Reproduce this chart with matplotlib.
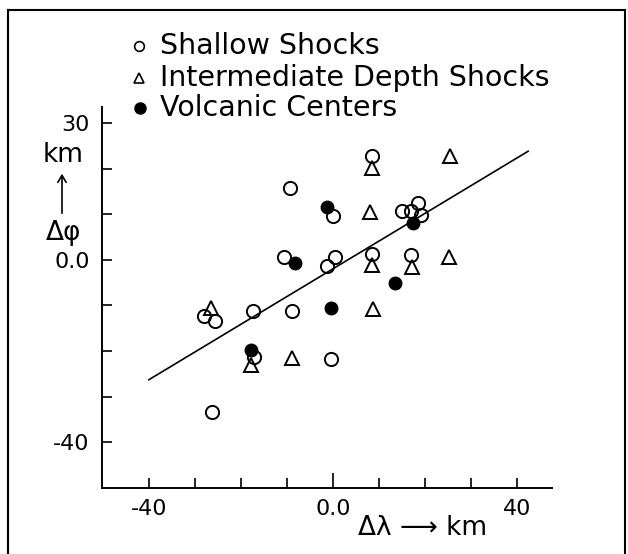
import numpy as np
import matplotlib
matplotlib.use('Agg')
import matplotlib.pyplot as plt
from matplotlib.lines import Line2D

# values (km)
shallow_x=[8.4,-9.4,-0.1,15.0,17.1,18.6,19.1,-10.7,0.4,-1.2,8.4,17.1,-28.1,-25.8,-17.5,-8.9,-17.2,-0.4,-26.4]
shallow_y=[22.8,15.7,9.6,10.8,10.8,12.4,9.9,0.7,0.7,-1.3,1.3,1.1,-12.4,-13.4,-11.3,-11.2,-21.3,-21.7,-33.3]

inter_x=[8.6,25.5,8.1,8.4,17.3,25.3,-26.5,8.8,-17.9,-8.9]
inter_y=[20.1,22.7,10.4,-1.1,-1.5,0.7,-10.6,-10.8,-23.0,-21.6]

volc_x=[-1.2,17.4,-8.3,13.5,-0.4,-17.8]
volc_y=[11.6,8.0,-0.6,-5.1,-10.6,-19.7]

# fitted line end points
line_x=[-40.1,42.5]
line_y=[-26.3,23.8]

xticks=[-40,-30,-20,-10,0,10,20,30,40]
xticklabels=['-40','','','','0.0','','','','40']
yticks=[-40,-30,-20,-10,0,10,20,30]
yticklabels=['-40','','','','0.0','','','30']

legend_labels=['Shallow Shocks','Intermediate Depth Shocks','Volcanic Centers']

plt.rcParams['font.family']=['DejaVu Sans']

W,H=628,554
def fx(x):
	return x/W
def fy(y):
	return 1-y/H

fig=plt.figure(figsize=(6.28,5.54),dpi=100)
ax=fig.add_axes([fx(102),fy(488.3),450/W,(488.3-107)/H])

ax.plot(line_x,line_y,color='black',lw=1.2)
ax.plot(inter_x,inter_y,ls='none',marker='^',ms=10,mfc='none',mec='black',mew=1.4)
ax.plot(shallow_x,shallow_y,ls='none',marker='o',ms=9.5,mfc='none',mec='black',mew=1.4)
ax.plot(volc_x,volc_y,ls='none',marker='o',ms=9,mfc='black',mec='black')

ax.set_xlim(-50.3,47.7)
ax.set_ylim(-50.1,33.5)
for s in ['top','right']:
	ax.spines[s].set_visible(False)
for s in ['left','bottom']:
	ax.spines[s].set_linewidth(1.4)

ax.set_xticks(xticks)
ax.set_xticklabels(xticklabels,fontsize=16)
ax.set_yticks(yticks)
ax.set_yticklabels(yticklabels,fontsize=16)
ax.tick_params(direction='in',length=7,width=1.2)
ax.tick_params(axis='x',pad=8)
ax.tick_params(axis='y',pad=9)
ax.get_xticklines()[8].set_markersize(11)

# legend drawn by hand above the plot
rows=[46,78,108]
fig.add_artist(Line2D([fx(139)],[fy(rows[0])],marker='o',ms=7,mfc='none',mec='black',mew=1.2))
fig.add_artist(Line2D([fx(139)],[fy(rows[1])],marker='^',ms=7,mfc='none',mec='black',mew=1.2))
fig.add_artist(Line2D([fx(140)],[fy(rows[2])],marker='o',ms=8,mfc='black',mec='black'))
for r,lab in zip(rows,legend_labels):
	fig.text(fx(160),fy(r),lab,ha='left',va='center',fontsize=20.5)

# axis labels
fig.text(fx(63),fy(155),'km',ha='center',va='center',fontsize=19)
fig.text(fx(63),fy(233),'Δφ',ha='center',va='center',fontsize=19)
fig.add_artist(matplotlib.patches.FancyArrowPatch((fx(62),fy(216)),(fx(62),fy(171)),
	transform=fig.transFigure,arrowstyle='->,head_length=5,head_width=3',color='black',lw=1.2))
fig.text(fx(423),fy(528),'Δλ ⟶ km',ha='center',va='center',fontsize=19)

# frame round the figure
for xs,ys in [([8,8],[10,560]),([8,625],[10,10]),([625,625],[10,560])]:
	fig.add_artist(Line2D([fx(v) for v in xs],[fy(v) for v in ys],color='black',lw=1.5))

plt.savefig('out.png',dpi=100)
